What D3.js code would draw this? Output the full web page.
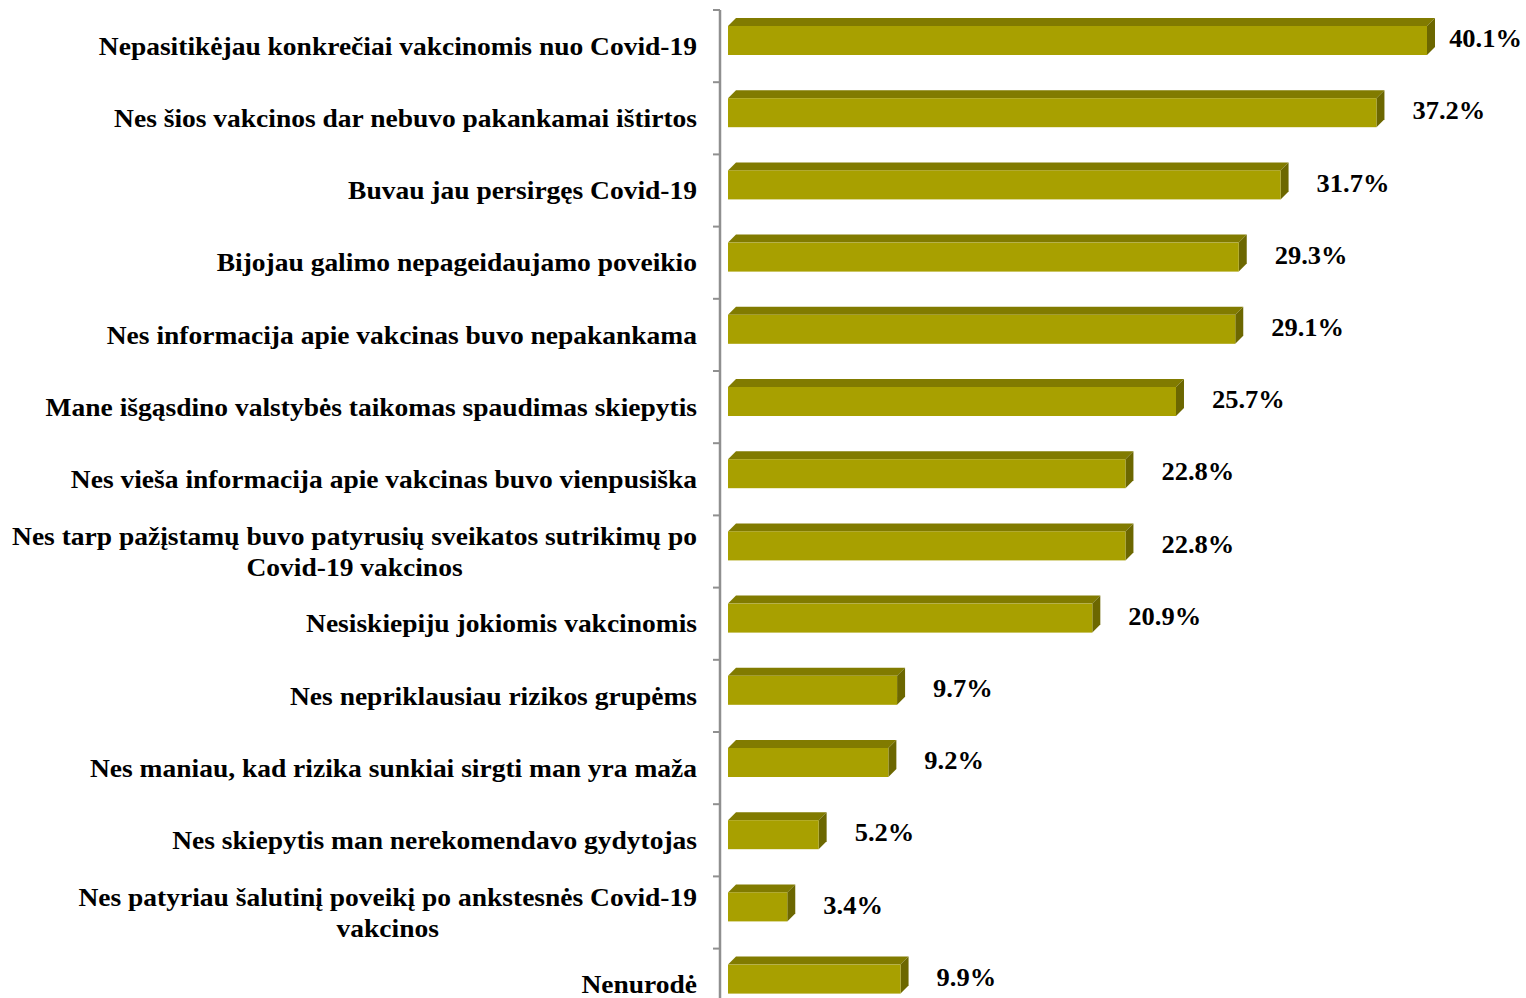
<!DOCTYPE html>
<html>
<head>
<meta charset="utf-8">
<script src="https://cdn.jsdelivr.net/npm/d3@7"></script>
<style>
  body { margin: 0; background: #fff; }
  svg { display: block; }
</style>
</head>
<body>
<svg id="chart" width="1526" height="998"></svg>
<script>
// reasons for not getting vaccinated, % of respondents
let categories = [
  ["Nepasitikėjau konkrečiai vakcinomis nuo Covid-19"],
  ["Nes šios vakcinos dar nebuvo pakankamai ištirtos"],
  ["Buvau jau persirgęs Covid-19"],
  ["Bijojau galimo nepageidaujamo poveikio"],
  ["Nes informacija apie vakcinas buvo nepakankama"],
  ["Mane išgąsdino valstybės taikomas spaudimas skiepytis"],
  ["Nes vieša informacija apie vakcinas buvo vienpusiška"],
  ["Nes tarp pažįstamų buvo patyrusių sveikatos sutrikimų po", "Covid-19 vakcinos"],
  ["Nesiskiepiju jokiomis vakcinomis"],
  ["Nes nepriklausiau rizikos grupėms"],
  ["Nes maniau, kad rizika sunkiai sirgti man yra maža"],
  ["Nes skiepytis man nerekomendavo gydytojas"],
  ["Nes patyriau šalutinį poveikį po ankstesnės Covid-19", "vakcinos"],
  ["Nenurodė"]
];
let values = [40.1, 37.2, 31.7, 29.3, 29.1, 25.7, 22.8, 22.8, 20.9, 9.7, 9.2, 5.2, 3.4, 9.9];

let svg = d3.select("#chart");
let width = 1526;
let axisX = 720;
let x0 = 728;
let depth = 8;
let barH = 29;
let stretch = 1.1;   // the source type is a bit wide

let keys = categories.map((d, i) => i);

let x = d3.scaleLinear().domain([0, 40.1]).range([x0, 1427]);
let y = d3.scaleBand().domain(keys).range([10, 10 + 72.2 * keys.length]);

let colors = { front: "#a8a000", top: "#817b00", side: "#6c6700" };
let font = "'Liberation Serif', 'Times New Roman', serif";

// axis with ticks on the left (band edges)
svg.append("line")
  .attr("x1", axisX).attr("x2", axisX)
  .attr("y1", y.range()[0]).attr("y2", 998)
  .style("stroke", "#8f8f8f")
  .style("stroke-width", 2.5);

svg.selectAll(".tick")
  .data(keys)
  .enter()
  .append("line")
  .attr("class", "tick")
  .attr("x1", axisX - 7).attr("x2", axisX)
  .attr("y1", d => y(d)).attr("y2", d => y(d))
  .style("stroke", "#8f8f8f")
  .style("stroke-width", 2);

let bars = svg.selectAll(".bar")
  .data(keys)
  .enter()
  .append("g")
  .attr("class", "bar")
  .attr("transform", d => "translate(0," + (y(d) + 16) + ")");

// top face
bars.append("path")
  .attr("d", d => {
    let xe = x(values[d]);
    return "M" + x0 + ",0L" + (x0 + depth) + "," + (-depth) + "L" + (xe + depth) + "," + (-depth) + "L" + xe + ",0Z";
  })
  .attr("fill", colors.top);

// side face
bars.append("path")
  .attr("d", d => {
    let xe = x(values[d]);
    return "M" + xe + ",0L" + (xe + depth) + "," + (-depth) + "L" + (xe + depth) + "," + (barH - depth) + "L" + xe + "," + barH + "Z";
  })
  .attr("fill", colors.side);

// front face
bars.append("rect")
  .attr("x", x0)
  .attr("y", 0)
  .attr("width", d => x(values[d]) - x0)
  .attr("height", barH)
  .attr("fill", colors.front);

// value labels
let vlab = bars.append("g");
vlab.append("text")
  .attr("x", 0)
  .attr("y", barH / 2 - 2)
  .attr("dy", "0.35em")
  .attr("font-family", font)
  .attr("font-weight", "bold")
  .attr("font-size", "25px")
  .attr("fill", "#000")
  .text(d => values[d].toFixed(1) + "%");

vlab.attr("transform", function(d) {
  let w = d3.select(this).select("text").node().getComputedTextLength() * 1.06;
  let xp = Math.min(x(values[d]) + depth + 28, width - w - 4);
  return "translate(" + xp + ",0) scale(1.06,1)";
});

// category labels, centred lines, block right-aligned to the axis
let lineH = 31;
let labels = svg.selectAll(".label")
  .data(keys)
  .enter()
  .append("g")
  .attr("class", "label")
  .attr("transform", "translate(697,0) scale(" + stretch + ",1)")
  .append("text")
  .attr("font-family", font)
  .attr("font-weight", "bold")
  .attr("font-size", "25px")
  .attr("fill", "#000")
  .attr("text-anchor", "middle");

labels.each(function(d) {
  let lines = categories[d];
  let t = d3.select(this);
  let yc = y(d) + y.bandwidth() / 2;
  lines.forEach((l, i) => {
    t.append("tspan")
      .attr("y", yc + (i - (lines.length - 1) / 2) * lineH)
      .attr("dy", "0.35em")
      .text(l);
  });
  let w = d3.max(t.selectAll("tspan").nodes(), n => n.getComputedTextLength());
  t.selectAll("tspan").attr("x", -w / 2);
});
</script>
</body>
</html>
